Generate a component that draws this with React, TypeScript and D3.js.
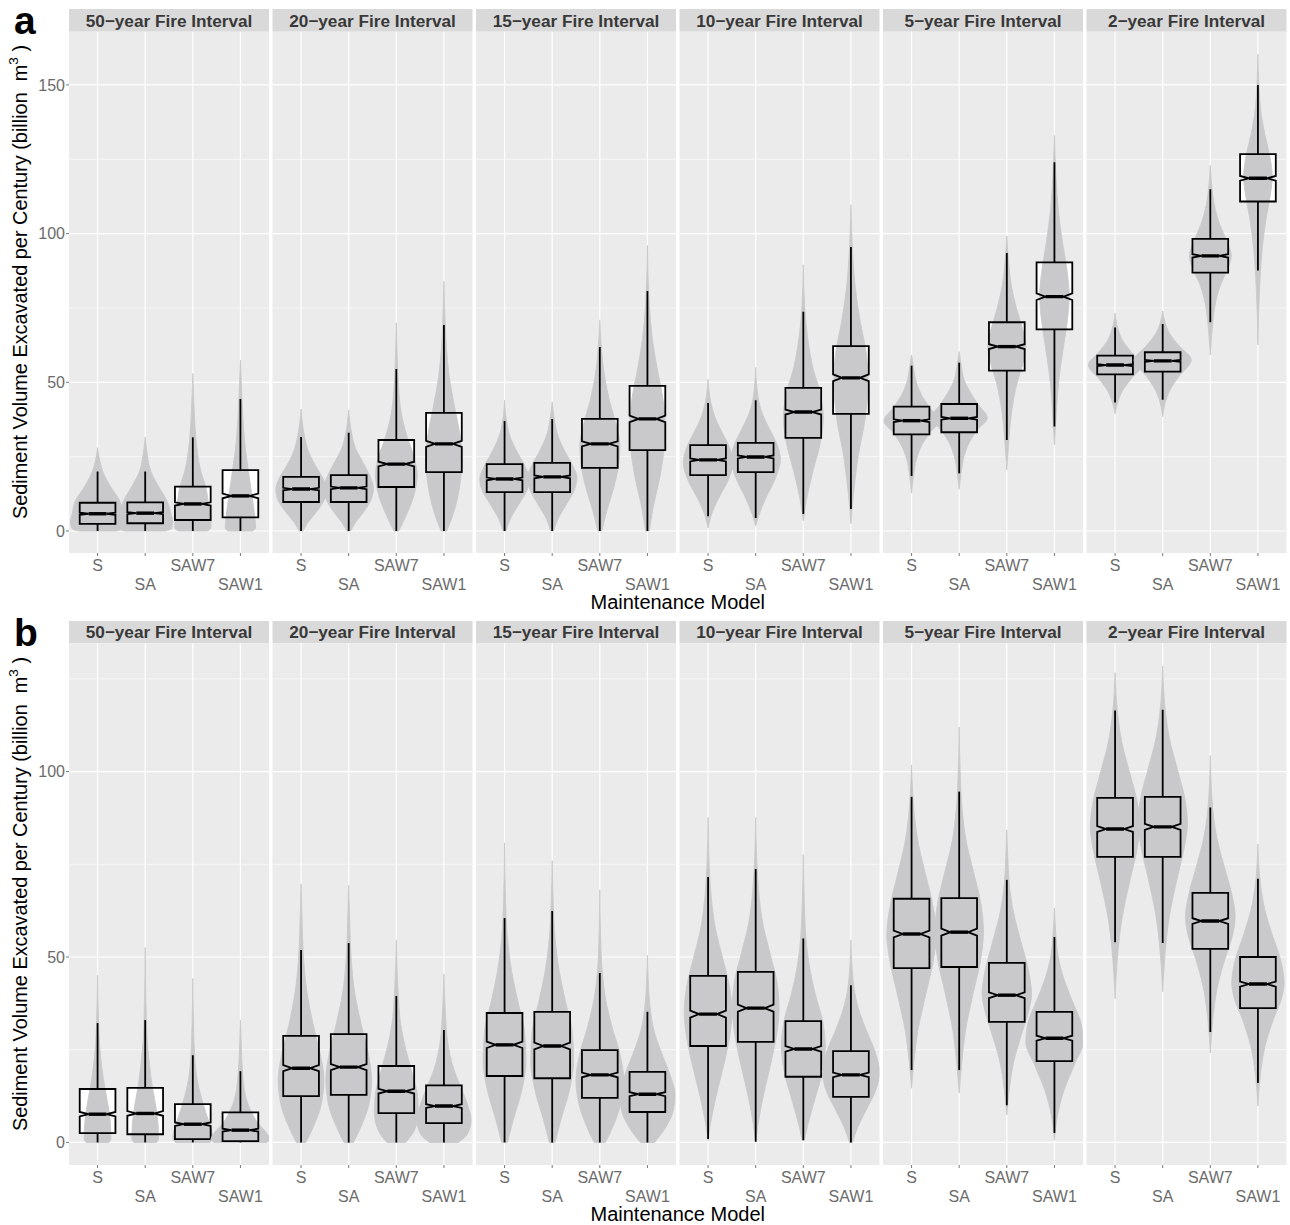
import * as d3 from "d3";

const INTERVALS = [
  "50−year Fire Interval",
  "20−year Fire Interval",
  "15−year Fire Interval",
  "10−year Fire Interval",
  "5−year Fire Interval",
  "2−year Fire Interval",
];
const MODELS = ["S", "SA", "SAW7", "SAW1"];

const TICKS_A = [0, 50, 100, 150];
const MINOR_A = [25, 75, 125];
const TICKS_B = [0, 50, 100];
const MINOR_B = [25, 75, 125];

// samples behind each box, used for the notch size
const SAMPLE_SIZE = 1000;

// [lower whisker, q1, median, q3, upper whisker] per interval, per model
const BOX_A = [
  [[0, 2.4, 5.8, 9.5, 20], [0, 2.6, 6.0, 9.6, 20], [0, 3.7, 9.1, 14.9, 31.5], [0, 4.6, 11.8, 20.5, 44.4]],
  [[0, 9.75, 14.1, 18.2, 31.6], [0, 9.75, 14.5, 18.8, 33], [0, 14.8, 22.5, 30.6, 54.5], [0, 19.8, 29.3, 39.7, 69.3]],
  [[0, 13.1, 17.5, 22.5, 37], [0, 13.1, 18.2, 22.9, 37.7], [0, 21.2, 29.3, 37.7, 61.9], [0, 27.2, 37.7, 48.8, 80.7]],
  [[5, 18.8, 23.9, 28.9, 43], [4.4, 19.8, 24.9, 29.6, 44], [5.7, 31.3, 40, 48.1, 73.7], [7.4, 39.4, 51.5, 62.2, 95.5]],
  [[18.5, 32.5, 37.1, 41.8, 55.6], [19.4, 33.2, 37.9, 42.7, 56.6], [30.6, 53.9, 62, 70.2, 93.5], [35.1, 67.8, 78.8, 90.3, 124]],
  [[43.2, 52.7, 55.8, 59, 68.4], [44.1, 53.6, 57.2, 60.1, 69.6], [70.2, 86.9, 92.5, 98.2, 114.9], [87.6, 110.8, 118.6, 126.7, 150]],
];

const BOX_B = [
  [[0, 2.5, 7.6, 14.4, 32.2], [0, 2.2, 7.8, 14.7, 33], [0, 0.9, 4.9, 10.3, 23.5], [0, 0.35, 3.3, 8.1, 19.2]],
  [[0, 12.5, 20, 28.7, 51.9], [0, 12.8, 20.3, 29.2, 53.8], [0, 7.9, 13.8, 20.6, 39.5], [0, 5.2, 9.8, 15.4, 30.3]],
  [[0, 17.9, 26.3, 34.9, 60.5], [0, 17.3, 26, 35.2, 62.4], [0, 12, 18.2, 24.9, 45.7], [0, 8.2, 13, 19, 35.2]],
  [[0.9, 26, 34.6, 44.9, 71.6], [0.2, 27.1, 36.2, 46, 73.7], [0.6, 17.7, 25.2, 32.7, 55], [0, 12.3, 18.2, 24.6, 42.4]],
  [[19.5, 47, 56.2, 65.7, 93.2], [19.5, 47.3, 56.7, 65.9, 94.6], [10, 32.5, 39.7, 48.4, 70.8], [2.5, 21.9, 28.1, 35.2, 55.4]],
  [[54, 77, 84.5, 92.9, 116.5], [53.8, 77, 85.1, 93.2, 116.7], [29.8, 52.2, 59.7, 67.3, 90.3], [16, 36.2, 42.7, 50, 71.1]],
];

// violin outlines: [value, half width as share of the category step]
const VIOLIN_A = [
  [
    [[0, 0.4], [0.8, 0.54], [3, 0.57], [6, 0.53], [10, 0.47], [15, 0.27], [20, 0.11], [24, 0.04], [28, 0]],
    [[0, 0.42], [0.8, 0.55], [3, 0.58], [6, 0.54], [10, 0.46], [15, 0.28], [20, 0.12], [25, 0.05], [31.6, 0]],
    [[0, 0.3], [1, 0.38], [4, 0.38], [9, 0.33], [15, 0.27], [20, 0.17], [26, 0.1], [32, 0.06], [40, 0.03], [53, 0]],
    [[0, 0.25], [1, 0.32], [5, 0.3], [12, 0.24], [20, 0.17], [28, 0.1], [36, 0.06], [45, 0.03], [57.5, 0]],
  ],
  [
    [[0, 0.04], [3, 0.15], [7, 0.35], [11, 0.5], [14, 0.53], [18, 0.45], [22, 0.3], [27, 0.15], [32, 0.07], [41, 0]],
    [[0, 0.04], [3, 0.15], [7, 0.34], [11, 0.48], [14.5, 0.52], [19, 0.43], [23, 0.3], [28, 0.14], [33, 0.06], [40.7, 0]],
    [[0, 0.05], [5, 0.2], [12, 0.37], [19, 0.44], [25, 0.37], [32, 0.22], [40, 0.1], [50, 0.04], [60, 0.015], [70, 0]],
    [[0, 0.06], [6, 0.2], [15, 0.33], [25, 0.38], [33, 0.33], [42, 0.22], [52, 0.11], [62, 0.05], [72, 0.02], [84, 0]],
  ],
  [
    [[0, 0.03], [4, 0.12], [9, 0.3], [14, 0.48], [17.5, 0.52], [22, 0.42], [27, 0.25], [32, 0.11], [37, 0.04], [44, 0]],
    [[0, 0.03], [4, 0.12], [9, 0.3], [14, 0.47], [18, 0.52], [22, 0.43], [27, 0.26], [32, 0.12], [37, 0.05], [43.4, 0]],
    [[0, 0.04], [7, 0.15], [15, 0.3], [23, 0.4], [29, 0.42], [36, 0.34], [44, 0.2], [52, 0.1], [60, 0.04], [71, 0]],
    [[0, 0.04], [8, 0.12], [18, 0.26], [28, 0.35], [36, 0.37], [45, 0.32], [55, 0.2], [65, 0.1], [76, 0.04], [96, 0]],
  ],
  [
    [[1, 0], [5, 0.06], [11, 0.22], [17, 0.42], [23, 0.52], [28, 0.45], [33, 0.3], [38, 0.15], [43, 0.06], [51, 0]],
    [[1.7, 0], [5, 0.06], [11, 0.21], [18, 0.42], [24, 0.52], [29, 0.45], [34, 0.3], [39, 0.15], [45, 0.05], [55, 0]],
    [[3.4, 0], [10, 0.06], [20, 0.2], [30, 0.36], [38, 0.42], [46, 0.36], [55, 0.2], [65, 0.09], [75, 0.03], [89.5, 0]],
    [[2.4, 0], [12, 0.05], [25, 0.15], [38, 0.3], [50, 0.36], [60, 0.32], [70, 0.2], [82, 0.09], [95, 0.03], [109.7, 0]],
  ],
  [
    [[12.7, 0], [18.5, 0.04], [24, 0.1], [29, 0.22], [33, 0.38], [37, 0.58], [41.5, 0.38], [46, 0.2], [50, 0.1], [55, 0.04], [59.2, 0]],
    [[14, 0], [19.4, 0.04], [25, 0.1], [30, 0.22], [34, 0.38], [38, 0.59], [42.5, 0.4], [47, 0.22], [51, 0.1], [56, 0.04], [60.3, 0]],
    [[20.5, 0], [30, 0.04], [40, 0.1], [50, 0.22], [57, 0.35], [62, 0.4], [68, 0.33], [75, 0.2], [83, 0.09], [92, 0.03], [99.2, 0]],
    [[28.9, 0], [40, 0.04], [52, 0.1], [63, 0.2], [72, 0.28], [79, 0.31], [87, 0.27], [97, 0.17], [108, 0.08], [120, 0.03], [133, 0]],
  ],
  [
    [[39.4, 0], [43, 0.05], [47, 0.15], [51, 0.33], [55.8, 0.56], [60, 0.35], [64, 0.16], [68, 0.06], [73.2, 0]],
    [[38.4, 0], [43, 0.05], [47, 0.14], [52, 0.34], [57.5, 0.6], [62, 0.36], [66, 0.16], [70, 0.05], [74, 0]],
    [[59.2, 0], [68, 0.04], [76, 0.1], [83, 0.22], [88, 0.36], [92.5, 0.44], [97, 0.36], [103, 0.2], [110, 0.08], [116, 0.03], [122.9, 0]],
    [[62.6, 0], [80, 0.03], [95, 0.09], [105, 0.17], [113, 0.26], [119, 0.3], [126, 0.25], [133, 0.15], [140, 0.07], [150, 0.02], [160.3, 0]],
  ],
];

const VIOLIN_B = [
  [
    [[0, 0.24], [1, 0.28], [5, 0.27], [10, 0.22], [15, 0.15], [20, 0.09], [27, 0.04], [35, 0.015], [45.1, 0]],
    [[0, 0.24], [1, 0.28], [5, 0.27], [10, 0.22], [15, 0.15], [21, 0.09], [28, 0.04], [38, 0.015], [52.5, 0]],
    [[0, 0.36], [1, 0.42], [3, 0.4], [7, 0.3], [12, 0.18], [17, 0.09], [23, 0.04], [32, 0.015], [44.2, 0]],
    [[0, 0.55], [0.7, 0.62], [2.5, 0.55], [5, 0.38], [9, 0.2], [13, 0.1], [18, 0.05], [25, 0.02], [33, 0]],
  ],
  [
    [[0, 0.1], [4, 0.25], [10, 0.42], [17, 0.48], [24, 0.4], [32, 0.25], [40, 0.13], [50, 0.05], [60, 0.02], [69.7, 0]],
    [[0, 0.1], [4, 0.25], [10, 0.42], [17, 0.48], [24, 0.41], [32, 0.26], [40, 0.13], [50, 0.05], [60, 0.02], [69.4, 0]],
    [[0, 0.2], [3, 0.37], [8, 0.46], [12, 0.45], [18, 0.35], [25, 0.2], [32, 0.09], [40, 0.04], [54.6, 0]],
    [[0, 0.3], [2, 0.48], [6, 0.57], [10, 0.5], [15, 0.35], [20, 0.2], [27, 0.08], [35, 0.03], [45.4, 0]],
  ],
  [
    [[0, 0.06], [6, 0.18], [14, 0.36], [22, 0.45], [30, 0.42], [38, 0.28], [46, 0.15], [55, 0.06], [65, 0.02], [80.8, 0]],
    [[0, 0.06], [6, 0.18], [14, 0.36], [22, 0.45], [30, 0.42], [38, 0.28], [46, 0.15], [55, 0.06], [65, 0.02], [76, 0]],
    [[0, 0.12], [5, 0.3], [11, 0.45], [17, 0.5], [24, 0.42], [31, 0.26], [38, 0.13], [46, 0.05], [56, 0.015], [68.1, 0]],
    [[0, 0.15], [4, 0.38], [9, 0.55], [13, 0.58], [18, 0.48], [24, 0.3], [30, 0.14], [37, 0.05], [44, 0.015], [50.5, 0]],
  ],
  [
    [[0.5, 0], [5, 0.05], [12, 0.16], [22, 0.35], [30, 0.47], [35, 0.5], [42, 0.45], [50, 0.3], [58, 0.15], [67, 0.06], [76, 0.02], [87.6, 0]],
    [[0.2, 0], [5, 0.05], [12, 0.15], [22, 0.33], [30, 0.45], [36, 0.49], [43, 0.45], [51, 0.3], [59, 0.15], [68, 0.06], [77, 0.02], [87.6, 0]],
    [[0.6, 0.02], [5, 0.1], [12, 0.25], [19, 0.4], [26, 0.46], [33, 0.4], [40, 0.25], [48, 0.12], [56, 0.05], [65, 0.02], [77.6, 0]],
    [[0, 0.03], [4, 0.14], [9, 0.33], [14, 0.52], [19, 0.6], [24, 0.52], [30, 0.33], [36, 0.16], [42, 0.06], [48, 0.02], [54.6, 0]],
  ],
  [
    [[14.6, 0], [22, 0.05], [30, 0.13], [40, 0.3], [50, 0.47], [56, 0.52], [63, 0.46], [72, 0.3], [80, 0.15], [88, 0.06], [95, 0.02], [101.8, 0]],
    [[13.3, 0], [21, 0.05], [30, 0.13], [40, 0.29], [50, 0.46], [57, 0.51], [64, 0.46], [73, 0.3], [81, 0.15], [90, 0.06], [100, 0.02], [112, 0]],
    [[7.4, 0], [14, 0.05], [22, 0.15], [30, 0.33], [36, 0.47], [40, 0.52], [46, 0.46], [54, 0.3], [62, 0.14], [70, 0.05], [77, 0.02], [84.3, 0]],
    [[0.6, 0], [7, 0.06], [14, 0.2], [21, 0.42], [27, 0.6], [32, 0.56], [38, 0.38], [44, 0.2], [50, 0.08], [56, 0.03], [63.2, 0]],
  ],
  [
    [[38.7, 0], [50, 0.05], [60, 0.14], [70, 0.3], [79, 0.46], [85, 0.52], [92, 0.46], [100, 0.3], [108, 0.14], [116, 0.05], [126.7, 0]],
    [[40.6, 0], [51, 0.05], [61, 0.14], [71, 0.3], [80, 0.46], [86, 0.52], [93, 0.46], [101, 0.3], [109, 0.14], [117, 0.05], [128.5, 0]],
    [[24.1, 0], [33, 0.05], [42, 0.15], [50, 0.32], [56, 0.47], [61, 0.52], [67, 0.45], [74, 0.3], [82, 0.14], [90, 0.05], [104.3, 0]],
    [[9.8, 0], [18, 0.05], [26, 0.15], [33, 0.32], [39, 0.5], [43, 0.55], [49, 0.48], [56, 0.3], [63, 0.14], [70, 0.05], [80.5, 0]],
  ],
];

const FONT = "'Liberation Sans', Arial, Helvetica, sans-serif";
const VIOLIN_FILL = "#C9C9CB";

const PANELS = [
  { tag: "a", stripTop: 9, top: 31.7, bottom: 553, domain: [-7.4, 167.9], ticks: TICKS_A, minor: MINOR_A, box: BOX_A, violin: VIOLIN_A },
  { tag: "b", stripTop: 621, top: 643.3, bottom: 1165, domain: [-6.1, 134.6], ticks: TICKS_B, minor: MINOR_B, box: BOX_B, violin: VIOLIN_B },
];

const facetX = d3.scaleBand().domain(INTERVALS).range([69, 1286.5]).paddingInner(0.0172);
const catX = d3.scalePoint().domain(MODELS).range([0, facetX.bandwidth()]).padding(0.6);
const widthScale = d3.scaleLinear().domain([0, 1]).range([0, catX.step()]);
const BOX_HALF = catX.step() * 0.375;

function Panel({ p, pi }) {
  const y = d3.scaleLinear().domain(p.domain).range([p.bottom, p.top]);
  const bw = facetX.bandwidth();
  const yMid = (p.stripTop + p.bottom) / 2 + 1;

  return (
    <g>
      <text x={14} y={p.stripTop + 25} fontSize={39} fontWeight="bold" fontFamily={FONT}>{p.tag}</text>
      <text
        transform={`translate(27,${yMid}) rotate(-90)`}
        textAnchor="middle"
        fontSize={19.9}
        fontFamily={FONT}
        style={{ whiteSpace: "pre" }}
      >
        {"Sediment Volume Excavated per Century (billion  m"}
        <tspan dy={-9} fontSize={13.5}>3</tspan>
        <tspan dy={9}>{" )"}</tspan>
      </text>
      {p.ticks.map((t) => (
        <g key={t}>
          <text x={65} y={y(t)} dy="0.35em" textAnchor="end" fontSize={16} fill="#6b6b6b" fontFamily={FONT}>{t}</text>
          <line x1={66} x2={69} y1={y(t)} y2={y(t)} stroke="#555" strokeWidth={0.8} />
        </g>
      ))}
      {INTERVALS.map((interval, fi) => {
        const fx = facetX(interval);
        const clipId = `clip-${pi}-${fi}`;
        return (
          <g key={interval} transform={`translate(${fx},0)`}>
            <defs>
              <clipPath id={clipId}>
                <rect x={0} y={p.top} width={bw} height={p.bottom - p.top} />
              </clipPath>
            </defs>
            <rect x={0} y={p.stripTop} width={bw} height={p.top - p.stripTop} fill="#D9D9D9" />
            <text x={bw / 2} y={(p.stripTop + p.top) / 2} dy="0.36em" textAnchor="middle" fontSize={17.2} fontWeight="bold" fill="#383838" fontFamily={FONT}>
              {interval}
            </text>
            <rect x={0} y={p.top} width={bw} height={p.bottom - p.top} fill="#EBEBEB" />
            {p.minor.map((t) => (
              <line key={"m" + t} x1={0} x2={bw} y1={y(t)} y2={y(t)} stroke="#fff" strokeWidth={0.6} />
            ))}
            {p.ticks.map((t) => (
              <line key={"t" + t} x1={0} x2={bw} y1={y(t)} y2={y(t)} stroke="#fff" strokeWidth={1.2} />
            ))}
            {MODELS.map((m) => (
              <line key={"v" + m} x1={catX(m)} x2={catX(m)} y1={p.top} y2={p.bottom} stroke="#fff" strokeWidth={1.2} />
            ))}
            <g clipPath={`url(#${clipId})`}>
              {MODELS.map((m, mi) => {
                const cx = catX(m);
                const [lo, q1, med, q3, hi] = p.box[fi][mi];
                const notch = (1.58 * (q3 - q1)) / Math.sqrt(SAMPLE_SIZE);
                const nw = BOX_HALF * 0.5;
                const boxPts = [
                  [cx - BOX_HALF, y(q3)],
                  [cx + BOX_HALF, y(q3)],
                  [cx + BOX_HALF, y(med + notch)],
                  [cx + nw, y(med)],
                  [cx + BOX_HALF, y(med - notch)],
                  [cx + BOX_HALF, y(q1)],
                  [cx - BOX_HALF, y(q1)],
                  [cx - BOX_HALF, y(med - notch)],
                  [cx - nw, y(med)],
                  [cx - BOX_HALF, y(med + notch)],
                ];
                const boxPath = d3.line()(boxPts) + "Z";
                const profile = [...p.violin[fi][mi]].reverse();
                const area = d3
                  .area()
                  .y((d) => y(d[0]))
                  .x0((d) => cx - widthScale(d[1]))
                  .x1((d) => cx + widthScale(d[1]))
                  .curve(d3.curveMonotoneY);
                return (
                  <g key={m}>
                    <path d={boxPath} fill="#fff" />
                    <path d={area(profile)} fill={VIOLIN_FILL} stroke={VIOLIN_FILL} strokeWidth={0.9} />
                    <line x1={cx} x2={cx} y1={y(q3)} y2={y(hi)} stroke="#000" strokeWidth={1.8} />
                    <line x1={cx} x2={cx} y1={y(q1)} y2={y(lo)} stroke="#000" strokeWidth={1.8} />
                    <path d={boxPath} fill="none" stroke="#000" strokeWidth={1.8} strokeLinejoin="miter" />
                    <line x1={cx - nw} x2={cx + nw} y1={y(med)} y2={y(med)} stroke="#000" strokeWidth={3.4} />
                  </g>
                );
              })}
            </g>
            {MODELS.map((m, mi) => (
              <g key={"x" + m}>
                <line x1={catX(m)} x2={catX(m)} y1={p.bottom} y2={p.bottom + 3} stroke="#555" strokeWidth={0.8} />
                <text
                  x={catX(m)}
                  y={p.bottom + (mi % 2 === 0 ? 17.5 : 36.5)}
                  textAnchor="middle"
                  fontSize={16}
                  fill="#6b6b6b"
                  fontFamily={FONT}
                >
                  {m}
                </text>
              </g>
            ))}
          </g>
        );
      })}
      <text x={(69 + 1286.5) / 2} y={p.bottom + 56} textAnchor="middle" fontSize={20} fontFamily={FONT}>
        Maintenance Model
      </text>
    </g>
  );
}

export default function App() {
  return (
    <svg
      width={1290}
      height={1225}
      style={{ position: "absolute", left: 0, top: 0, background: "#fff" }}
    >
      <rect width={1290} height={1225} fill="#fff" />
      {PANELS.map((p, i) => (
        <Panel key={p.tag} p={p} pi={i} />
      ))}
    </svg>
  );
}
